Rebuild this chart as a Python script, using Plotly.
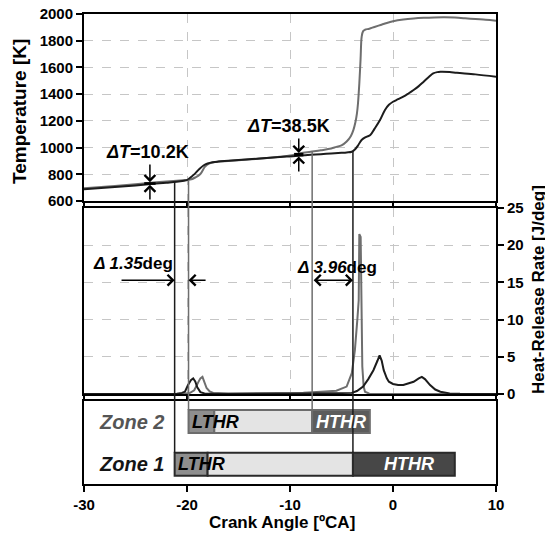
import numpy as np
import plotly.graph_objects as go

FONT = "Liberation Sans, Arial, sans-serif"

# ---------------- data ----------------
# Temperature, Zone 1 (dark) and Zone 2 (grey)
ca_T1 = [-30, -27, -25, -23.5, -22, -21, -20.3, -20, -19.6, -19.2, -18.8, -18.4, -18, -17.5, -17, -16, -15,
         -13, -11, -10, -9, -8, -7, -6, -5, -4.5, -4, -3.7, -3.4, -3.05, -2.6, -2.2, -1.8, -1.26, -0.78,
         -0.4, 0, 0.5, 1, 1.5, 2, 2.5, 3, 3.5, 3.9, 4.3, 4.6, 5.5, 6.2, 8, 10]
temp_zone1 = [688, 705, 717, 727, 737, 744, 752, 757, 780, 807, 840, 866, 881, 890, 895, 901, 907,
              918, 929, 934, 940, 946, 951, 956, 961, 964, 969, 985, 1015, 1057, 1080, 1094, 1140, 1206, 1281,
              1320, 1343, 1362, 1381, 1405, 1431, 1460, 1495, 1530, 1555, 1565, 1568, 1566, 1560, 1548, 1530]

ca_T2 = [-30, -27, -25, -23.5, -22, -21, -20.3, -19.7, -19.2, -18.7, -18.25, -17.8, -17.3, -17, -16, -15,
         -13, -11, -10, -9, -8, -7, -6, -5.5, -5, -4.5, -4.1, -3.85, -3.65, -3.5, -3.4, -3.27, -3.15,
         -3.04, -2.9, -2.72, -2.3, -1.8, -1.2, -0.6, 0, 1, 2, 3, 4, 5, 6, 7, 8, 9, 10]
temp_zone2 = [695, 713, 726, 737, 746, 752, 756, 760, 776, 802, 857, 882, 891, 894, 900, 906,
              917, 931, 940, 958, 969, 980, 993, 1005, 1016, 1045, 1085, 1131, 1190, 1256, 1330, 1481, 1660,
              1830, 1872, 1882, 1890, 1903, 1918, 1933, 1945, 1958, 1966, 1971, 1974, 1975, 1973, 1968, 1962, 1957, 1950]

# Heat-release rate
ca_H1 = [-30, -22, -21, -20.5, -20.2, -19.9, -19.6, -19.4, -19.2, -19.0, -18.7, -18.3, -17, -10, -5, -4, -3.5,
         -2.9, -2.4, -1.9, -1.5, -1.3, -1.1, -0.9, -0.6, -0.4, 0, 0.5, 1.0, 1.5, 2.0, 2.5, 2.8, 3.1, 3.6, 4.1,
         4.6, 5.5, 6.5, 10]
hrr_zone1 = [0, 0, 0.05, 0.15, 0.3, 1.2, 1.9, 2.1, 1.7, 0.9, 0.25, 0.08, 0.03, 0.05, 0.1, 0.15, 0.4,
             1.0, 2.0, 3.2, 4.5, 5.2, 4.5, 3.2, 2.1, 1.65, 1.35, 1.2, 1.2, 1.4, 1.65, 2.1, 2.3, 2.0, 1.2, 0.6,
             0.3, 0.08, 0.02, 0]

ca_H2 = [-30, -20.5, -19.7, -19.3, -18.9, -18.7, -18.5, -18.3, -18.1, -17.8, -17.45, -16, -10, -8.7, -7, -5.5,
         -4.5, -4.0, -3.7, -3.55, -3.45, -3.33, -3.27, -3.14, -3.08, -2.98, -2.85, -2.72, -2.3, 10]
hrr_zone2 = [0, 0, 0.15, 0.5, 1.6, 2.1, 2.3, 1.6, 0.8, 0.35, 0.15, 0.05, 0.12, 0.17, 0.3, 0.45,
             1.0, 2.8, 5.9, 9.5, 10.2, 12.6, 21.5, 21.1, 11.7, 3.7, 1.0, 0.3, 0.05, 0]

# Heat-release phases per zone
zones = ["Zone 1", "Zone 2"]
zone_pos = [1, 2]
lthr_start = [-21.2, -19.85]
lthr_peak_end = [-18.0, -17.35]
hthr_start = [-3.89, -7.85]
hthr_end = [6.0, -2.25]

# Annotated values
dT_labels = ["10.2K", "38.5K"]
dT_ca = [-23.6, -9.15]
ddeg_labels = ["1.35", "3.96"]

x_ticks = [-30, -20, -10, 0, 10]
T_ticks = list(range(600, 2001, 200))
H_ticks = [0, 5, 10, 15, 20, 25]

# ---------------- styling ----------------
DARK = "#1c1c1c"
GREY = "#6e6e6e"
GRID = "#c6c6c6"

dom_top = [0.6021, 1.0]
dom_mid = [0.1915, 0.5872]
dom_bot = [0.0, 0.1766]
T_range = [600, 2000]
H_range = [0, 25]
Z_range = [0.541, 2.479]
BAR_W = 0.537
ZONE_LABEL_X = -22.0


def T_to_paper(t):
    return dom_top[0] + (t - T_range[0]) / (T_range[1] - T_range[0]) * (dom_top[1] - dom_top[0])


def Z_to_paper(z):
    return dom_bot[0] + (z - Z_range[0]) / (Z_range[1] - Z_range[0]) * (dom_bot[1] - dom_bot[0])


fig = go.Figure()

# temperature
fig.add_trace(go.Scatter(x=ca_T2, y=temp_zone2, xaxis="x3", yaxis="y3", mode="lines",
                         line=dict(color=GREY, width=2), line_shape="spline", showlegend=False))
fig.add_trace(go.Scatter(x=ca_T1, y=temp_zone1, xaxis="x3", yaxis="y3", mode="lines",
                         line=dict(color=DARK, width=2), line_shape="spline", showlegend=False))
# heat release
fig.add_trace(go.Scatter(x=ca_H2, y=hrr_zone2, xaxis="x2", yaxis="y2", mode="lines",
                         line=dict(color=GREY, width=2), showlegend=False))
fig.add_trace(go.Scatter(x=ca_H1, y=hrr_zone1, xaxis="x2", yaxis="y2", mode="lines",
                         line=dict(color=DARK, width=2), showlegend=False))

# zone bars
seg_colors = {
    "ltpk": ["#8e8e8e", "#8e8e8e"],
    "mid": ["#e4e4e4", "#e4e4e4"],
    "ht": ["#474747", "#5c5c5c"],
}
outline = ["#2a2a2a", "#6c6c6c"]
segments = [
    ("ltpk", lthr_start, lthr_peak_end),
    ("mid", lthr_peak_end, hthr_start),
    ("ht", hthr_start, hthr_end),
]
for key, s, e in segments:
    fig.add_trace(go.Bar(orientation="h", y=zone_pos, base=s,
                         x=[b - a for a, b in zip(s, e)], width=BAR_W,
                         xaxis="x", yaxis="y",
                         marker=dict(color=seg_colors[key], line=dict(color=outline, width=2)),
                         showlegend=False, hoverinfo="skip"))

shapes = []
annotations = []

# onset lines from the temperature curves down to the bars
line_cols = [DARK, GREY]
temps = [(ca_T1, temp_zone1), (ca_T2, temp_zone2)]
for i in range(2):
    ca_arr, t_arr = temps[i]
    for xv in (lthr_start[i], hthr_start[i]):
        tv = float(np.interp(xv, ca_arr, t_arr))
        shapes.append(dict(type="line", xref="x", yref="paper", x0=xv, x1=xv,
                           y0=Z_to_paper(zone_pos[i] + BAR_W / 2), y1=T_to_paper(tv),
                           line=dict(color=line_cols[i], width=1.5), layer="above"))

# delta-T markers
dT_text_pos = [(-23.79, 969), (-10.19, 1161)]
dT_top_tail = [884, 1079]
dT_bot_tail = [600, 810]
dT_halfw = [0.55, 0.45]
for i in range(2):
    xm = dT_ca[i]
    t1 = float(np.interp(xm, ca_T1, temp_zone1))
    t2 = float(np.interp(xm, ca_T2, temp_zone2))
    lo, hi = min(t1, t2), max(t1, t2)
    shapes.append(dict(type="rect", xref="x3", yref="y3", x0=xm - dT_halfw[i], x1=xm + dT_halfw[i],
                       y0=lo - 5, y1=hi + 5, fillcolor="black", line=dict(width=0), layer="above"))
    annotations.append(dict(xref="x3", yref="y3", axref="x3", ayref="y3", x=xm, y=hi + 5, ax=xm,
                            ay=dT_top_tail[i], text="", showarrow=True, arrowhead=4, arrowsize=1.4,
                            arrowwidth=1.5, arrowcolor="black", standoff=0))
    annotations.append(dict(xref="x3", yref="y3", axref="x3", ayref="y3", x=xm, y=lo - 5, ax=xm,
                            ay=dT_bot_tail[i], text="", showarrow=True, arrowhead=4, arrowsize=1.4,
                            arrowwidth=1.5, arrowcolor="black", standoff=0))
    annotations.append(dict(xref="x3", yref="y3", x=dT_text_pos[i][0], y=dT_text_pos[i][1],
                            text="<b><i>ΔT</i>=" + dT_labels[i] + "</b>", showarrow=False,
                            font=dict(size=18, color="black", family=FONT)))

# delta-deg markers
ARR_Y = 15.3
annotations.append(dict(xref="x2", yref="y2", axref="x2", ayref="y2", x=lthr_start[0], y=ARR_Y,
                        ax=-26.5, ay=ARR_Y, text="", showarrow=True, arrowhead=4, arrowsize=1.4,
                        arrowwidth=1.5, arrowcolor="black", standoff=0))
annotations.append(dict(xref="x2", yref="y2", axref="x2", ayref="y2", x=lthr_start[1], y=ARR_Y,
                        ax=-18.05, ay=ARR_Y, text="", showarrow=True, arrowhead=4, arrowsize=1.4,
                        arrowwidth=1.5, arrowcolor="black", standoff=0))
annotations.append(dict(xref="x2", yref="y2", axref="x2", ayref="y2", x=hthr_start[0], y=ARR_Y,
                        ax=hthr_start[1], ay=ARR_Y, text="", showarrow=True, arrowhead=4,
                        arrowside="end+start", arrowsize=1.4, arrowwidth=1.5, arrowcolor="black",
                        standoff=0, startstandoff=0))
ddeg_pos = [(-25.24, 17.56), (-5.39, 17.0)]
for i in range(2):
    annotations.append(dict(xref="x2", yref="y2", x=ddeg_pos[i][0], y=ddeg_pos[i][1],
                            text="<b><i>Δ " + ddeg_labels[i] + "</i>deg</b>", showarrow=False,
                            font=dict(size=17, color="black", family=FONT)))

# zone labels and bar labels
zone_colors = ["#151515", "#555555"]
for i in range(2):
    annotations.append(dict(xref="x", yref="y", x=ZONE_LABEL_X, y=zone_pos[i], xanchor="right",
                            text="<b><i>" + zones[i] + "</i></b>", showarrow=False,
                            font=dict(size=20, color=zone_colors[i], family=FONT)))
    annotations.append(dict(xref="x", yref="y", x=lthr_start[i] + 0.1, y=zone_pos[i], xanchor="left",
                            text="<b><i>LTHR</i></b>", showarrow=False,
                            font=dict(size=18, color="black", family=FONT)))
    annotations.append(dict(xref="x", yref="y", x=(hthr_start[i] + hthr_end[i]) / 2, y=zone_pos[i],
                            xshift=5 if i == 0 else 0,
                            text="<b><i>HTHR</i></b>", showarrow=False,
                            font=dict(size=18, color="white", family=FONT)))

# axis titles
annotations.append(dict(xref="paper", yref="paper", x=0.4806, y=-0.0809, xanchor="center", yanchor="middle",
                        text="<b>Crank Angle [ºCA]</b>", showarrow=False,
                        font=dict(size=17, color="black", family=FONT)))
annotations.append(dict(xref="paper", yref="paper", x=-0.1553, y=0.7915, xanchor="center", yanchor="middle",
                        textangle=-90, text="<b>Temperature [K]</b>", showarrow=False,
                        font=dict(size=19, color="black", family=FONT)))
annotations.append(dict(xref="paper", yref="paper", x=1.1044, y=0.4128, xanchor="center", yanchor="middle",
                        textangle=-90, text="<b>Heat-Release Rate [J/deg]</b>", showarrow=False,
                        font=dict(size=17, color="black", family=FONT)))

axis_common = dict(showline=True, linewidth=2, linecolor="black", mirror=True, zeroline=False,
                   automargin=False, tickcolor="black", tickwidth=2, ticklabeloverflow="allow")
grid = dict(showgrid=True, gridcolor=GRID, griddash="dash", gridwidth=1)

# the page places the figure 8px from the top-left corner
fig.update_layout(
    width=545, height=525,
    margin=dict(l=76, r=57, t=6, b=49),
    paper_bgcolor="white", plot_bgcolor="white",
    font=dict(family=FONT, color="black"),
    barmode="overlay",
    showlegend=False,
    shapes=shapes,
    annotations=annotations,
    xaxis=dict(domain=[0, 1], range=[-30, 10], anchor="y", tickmode="array", tickvals=x_ticks,
               ticktext=["<b>%d</b>" % v for v in x_ticks], ticks="outside", ticklen=6,
               showgrid=False, tickfont=dict(size=15), **axis_common),
    yaxis=dict(domain=dom_bot, range=Z_range, anchor="x", showticklabels=False, ticks="",
               showgrid=False, **axis_common),
    xaxis2=dict(domain=[0, 1], range=[-30, 10], anchor="y2", matches="x", tickmode="array",
                tickvals=x_ticks, showticklabels=False, ticks="outside", ticklen=4, **grid, **axis_common),
    yaxis2=dict(domain=dom_mid, range=H_range, anchor="x2", side="right", tickmode="array",
                tickvals=H_ticks, ticktext=["<b>%d</b>" % v for v in H_ticks], ticks="outside", ticklen=6,
                tickfont=dict(size=15), **grid, **axis_common),
    xaxis3=dict(domain=[0, 1], range=[-30, 10], anchor="y3", matches="x", tickmode="array",
                tickvals=x_ticks, showticklabels=False, ticks="outside", ticklen=4, **grid, **axis_common),
    yaxis3=dict(domain=dom_top, range=T_range, anchor="x3", tickmode="array", tickvals=T_ticks,
                ticktext=["<b>%d</b>" % v for v in T_ticks], ticks="outside", ticklen=6,
                tickfont=dict(size=15), **grid, **axis_common),
)

fig.write_html("out.html")
